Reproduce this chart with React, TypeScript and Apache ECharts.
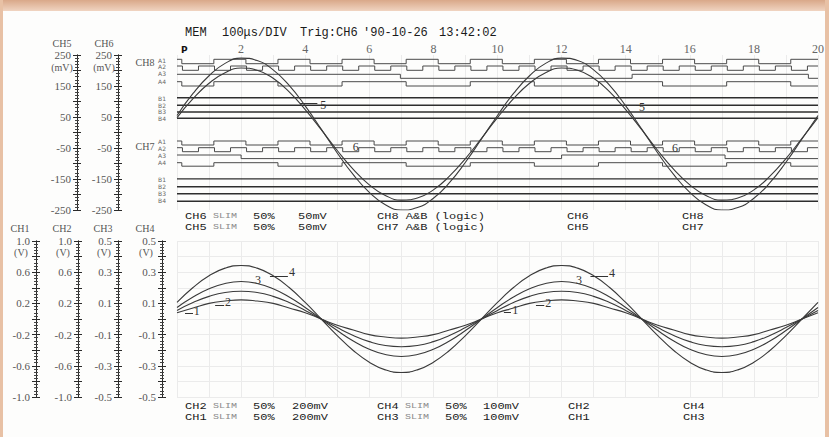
import React, { useEffect, useRef } from 'react';
import * as echarts from 'echarts';

// ---------- data ----------
const TIME_DIV = [0,0.5,1,1.5,2,2.5,3,3.5,4,4.5,5,5.5,6,6.5,7,7.5,8,8.5,9,9.5,10,10.5,11,11.5,12,12.5,13,13.5,14,14.5,15,15.5,16,16.5,17,17.5,18,18.5,19,19.5,20];
const TIME_TICKS = [2,4,6,8,10,12,14,16,18,20];

const CH5_MV = [55,126,183,223,240,232,202,152,86,11,-66,-136,-193,-233,-250,-242,-212,-162,-96,-21,55,126,183,223,240,232,202,152,86,11,-66,-136,-193,-233,-250,-242,-212,-162,-96,-21,55];
const CH6_MV = [48,109,159,193,208,201,175,131,74,9,-58,-119,-169,-203,-218,-211,-185,-141,-84,-19,48,109,159,193,208,201,175,131,74,9,-58,-119,-169,-203,-218,-211,-185,-141,-84,-19,48];

const CH1_V = [0.08,0.14,0.2,0.23,0.245,0.23,0.2,0.14,0.08,0,-0.08,-0.14,-0.2,-0.23,-0.245,-0.23,-0.2,-0.14,-0.08,0,0.08,0.14,0.2,0.23,0.245,0.23,0.2,0.14,0.08,0,-0.08,-0.14,-0.2,-0.23,-0.245,-0.23,-0.2,-0.14,-0.08,0,0.08];
const CH2_V = [0.11,0.21,0.29,0.34,0.355,0.34,0.29,0.21,0.11,0,-0.11,-0.21,-0.29,-0.34,-0.355,-0.34,-0.29,-0.21,-0.11,0,0.11,0.21,0.29,0.34,0.355,0.34,0.29,0.21,0.11,0,-0.11,-0.21,-0.29,-0.34,-0.355,-0.34,-0.29,-0.21,-0.11,0,0.11];
const CH3_V = [0.074,0.141,0.194,0.228,0.24,0.228,0.194,0.141,0.074,0,-0.074,-0.141,-0.194,-0.228,-0.24,-0.228,-0.194,-0.141,-0.074,0,0.074,0.141,0.194,0.228,0.24,0.228,0.194,0.141,0.074,0,-0.074,-0.141,-0.194,-0.228,-0.24,-0.228,-0.194,-0.141,-0.074,0,0.074];
const CH4_V = [0.106,0.202,0.277,0.326,0.343,0.326,0.277,0.202,0.106,0,-0.106,-0.202,-0.277,-0.326,-0.343,-0.326,-0.277,-0.202,-0.106,0,0.106,0.202,0.277,0.326,0.343,0.326,0.277,0.202,0.106,0,-0.106,-0.202,-0.277,-0.326,-0.343,-0.326,-0.277,-0.202,-0.106,0,0.106];

// logic channels: initial level and toggle times (divisions)
const CH8_A_INIT = [1, 1, 1, 1];
const CH8_A1_EDGES = [0.15,1.15,2.15,3.15,4.15,5.15,6.15,7.15,8.15,9.15,10.15,11.15,12.15,13.15,14.15,15.15,16.15,17.15,18.15,19.15];
const CH8_A2_EDGES = [0.17,0.67,1.17,1.67,2.17,2.67,3.17,3.67,4.17,4.67,5.17,5.67,6.17,6.67,7.17,7.67,8.17,8.67,9.17,9.67,10.17,10.67,11.17,11.67,12.17,12.67,13.17,13.67,14.17,14.67,15.17,15.67,16.17,16.67,17.17,17.67,18.17,18.67,19.17,19.67];
const CH8_A3_EDGES = [6.97, 14.2, 19.7];
const CH8_A4_EDGES = [0.15,1.15,3.15,5.15,7.15,9.15,11.15,13.15,15.15,17.15,19.15];
const CH7_A_INIT = [1, 1, 1, 1];
const CH7_A1_EDGES = [0.15,1.15,2.15,3.15,4.15,5.15,6.15,7.15,8.15,9.15,10.15,11.15,12.15,13.15,14.15,15.15,16.15,17.15,18.15,19.15];
const CH7_A2_EDGES = [0.17,0.67,1.17,1.67,2.17,2.67,3.17,3.67,4.17,4.67,5.17,5.67,6.17,6.67,7.17,7.67,8.17,8.67,9.17,9.67,10.17,10.67,11.17,11.67,12.17,12.67,13.17,13.67,14.17,14.67,15.17,15.67,16.17,16.67,17.17,17.67,18.17,18.67,19.17,19.67];
const CH7_A3_EDGES = [2.0, 12.0, 17.1];
const CH7_A4_EDGES = [0.15,1.15,3.15,5.15,7.15,9.15,11.15,13.15,15.15,17.15,19.15];

// trace tags [time, value]
const TAG5 = [[4.56, 89], [14.51, 82]];
const TAG6 = [[5.58, -47], [15.54, -50]];
const TAG1 = [[0.62, 0.1], [10.55, 0.115]];
const TAG2 = [[1.59, 0.218], [11.58, 0.205]];
const TAG3 = [[2.53, 0.25], [12.54, 0.25]];
const TAG4 = [[3.59, 0.3], [13.57, 0.295]];

// ---------- layout ----------
const MONO = '"Liberation Mono", "DejaVu Sans Mono", monospace';
const SERIF = '"Liberation Serif", "DejaVu Serif", serif';
const SANS = '"DejaVu Sans", sans-serif';
const INK = '#3a3a3a';
const GRIDC = '#ebebeb';
const TXT = '#1a1a1a';

// logic row layout on the hidden pixel-like axis (55..210)
const CH8_ROWS = [[59.3, 63.7], [66, 70.3], [74.3, 78.3], [81.7, 86]];
const CH8_BROWS = [97.7, 105.3, 112, 118.3];
const CH7_ROWS = [[141, 145], [147.7, 151.7], [155, 158.6], [162.7, 166.2]];
const CH7_BROWS = [178.9, 186.8, 193.8, 201.2];

function zip(xs: number[], ys: number[]) {
  return xs.map((x, i) => [x, ys[i]]);
}

function stepData(init: number, edges: number[], row: number[]) {
  const [hi, lo] = row;
  let level = init;
  const pts: number[][] = [[0, level ? hi : lo]];
  for (const t of edges) {
    pts.push([t, level ? hi : lo]);
    level = 1 - level;
    pts.push([t, level ? hi : lo]);
  }
  pts.push([20, level ? hi : lo]);
  return pts;
}

function txt(text: string, x: number, y: number, size: number, fill: string, family: string, align = 'left', weight = 'normal', scaleY = 1) {
  return {
    type: 'text', x, y, scaleY, silent: true, z: 10,
    style: { text, fill, font: `${weight} ${size}px ${family}`, align, verticalAlign: 'middle', textAlign: align, textVerticalAlign: 'middle' },
  };
}
const ftxt = (text: string, x: number, y: number) => txt(text, x, y, 12, TXT, MONO, 'left', 'normal', 0.74);
const slim = (x: number, y: number) => txt('SLIM', x, y, 10, '#8a8a8a', MONO, 'left', 'normal', 0.74);

function scaleAxes(gridIndex: number, offset: number, min: number, max: number, interval: number, fmt: (v: number) => string, split = false) {
  const base: any = {
    type: 'value', gridIndex, position: 'left', offset, min, max, interval,
    axisLine: { show: true, onZero: false, lineStyle: { color: '#2a2a2a', width: 1 } },
    axisTick: { show: true, inside: false, length: 4, lineStyle: { color: '#2a2a2a', width: 1 } },
    minorTick: { show: true, splitNumber: 5, length: 2, lineStyle: { color: '#444', width: 1 } },
    axisLabel: { show: true, margin: 6, formatter: fmt, color: '#555', fontSize: 11, fontFamily: SERIF },
    splitLine: { show: split, lineStyle: { color: GRIDC, width: 1 } },
  };
  const inner: any = {
    ...base,
    axisTick: { ...base.axisTick, inside: true },
    axisLabel: { show: false },
    splitLine: { show: false },
  };
  return [base, inner];
}

const fmtMv = (v: number) => (Math.round(v) % 100 !== 0 ? String(Math.round(v)) : '');
const fmtV1 = (v: number) => (Math.abs(Math.round(v * 5)) % 2 === 1 ? v.toFixed(1) : '');
const fmtV05 = (v: number) => (Math.abs(Math.round(v * 10)) % 2 === 1 ? v.toFixed(1) : '');

function tagPoints(label: string, coords: number[][]) {
  return {
    symbol: 'rect', symbolSize: [1, 1], silent: true,
    itemStyle: { color: 'rgba(0,0,0,0)' },
    label: { show: true, position: 'inside', formatter: label, color: '#333', fontSize: 12, fontFamily: SERIF },
    data: coords.map((c) => ({ coord: c })),
  };
}

function leader(segs: number[][]) {
  return {
    symbol: ['none', 'none'], silent: true, animation: false,
    lineStyle: { color: '#333', width: 1, type: 'solid' },
    label: { show: false },
    data: segs.map(([a, b, v]) => [{ coord: [a, v] }, { coord: [b, v] }]),
  };
}

export default function App() {
  const ref = useRef<HTMLDivElement>(null);
  useEffect(() => {
    document.body.style.margin = '0';
    const chart = echarts.init(ref.current!, undefined, { renderer: 'svg' });

    const yAxis: any[] = [
      ...scaleAxes(0, 100, -250, 250, 50, fmtMv), // 0,1 CH5
      ...scaleAxes(0, 59, -250, 250, 50, fmtMv), // 2,3 CH6
      { type: 'value', gridIndex: 0, min: 55, max: 210, inverse: true, show: false }, // 4 logic
      ...scaleAxes(1, 141, -1, 1, 0.2, fmtV1, true), // 5,6 CH1
      ...scaleAxes(1, 99, -1, 1, 0.2, fmtV1), // 7,8 CH2
      ...scaleAxes(1, 59, -0.5, 0.5, 0.1, fmtV05), // 9,10 CH3
      ...scaleAxes(1, 15, -0.5, 0.5, 0.1, fmtV05), // 11,12 CH4
    ];

    const xBase = (gridIndex: number, labels: boolean): any => ({
      type: 'value', gridIndex, min: 0, max: 20, interval: 2, position: 'top',
      axisLine: { show: false }, axisTick: { show: false },
      axisLabel: {
        show: labels, margin: 0, color: '#666', fontSize: 12, fontFamily: SERIF,
        formatter: (v: number) => (TIME_TICKS.includes(v) ? String(v) : ''),
      },
      splitLine: { show: true, lineStyle: { color: GRIDC, width: 1 } },
      minorTick: { show: false, splitNumber: 2 },
      minorSplitLine: { show: true, lineStyle: { color: GRIDC, width: 1 } },
    });

    const analog = (name: string, xi: number, yi: number, vals: number[], tag: any, lead?: any) => ({
      name, type: 'line', xAxisIndex: xi, yAxisIndex: yi, data: zip(TIME_DIV, vals),
      smooth: true, showSymbol: false, silent: true, z: 5,
      lineStyle: { color: INK, width: 1.1 },
      markPoint: tag, ...(lead ? { markLine: lead } : {}),
    });

    const logicSeries: any[] = [];
    const addLogic = (name: string, init: number, edges: number[], row: number[]) => {
      logicSeries.push({
        name, type: 'line', xAxisIndex: 0, yAxisIndex: 4, data: stepData(init, edges, row),
        showSymbol: false, silent: true, z: 3, lineStyle: { color: '#4a4a4a', width: 1 },
      });
    };
    addLogic('CH8 A1', CH8_A_INIT[0], CH8_A1_EDGES, CH8_ROWS[0]);
    addLogic('CH8 A2', CH8_A_INIT[1], CH8_A2_EDGES, CH8_ROWS[1]);
    addLogic('CH8 A3', CH8_A_INIT[2], CH8_A3_EDGES, CH8_ROWS[2]);
    addLogic('CH8 A4', CH8_A_INIT[3], CH8_A4_EDGES, CH8_ROWS[3]);
    addLogic('CH7 A1', CH7_A_INIT[0], CH7_A1_EDGES, CH7_ROWS[0]);
    addLogic('CH7 A2', CH7_A_INIT[1], CH7_A2_EDGES, CH7_ROWS[1]);
    addLogic('CH7 A3', CH7_A_INIT[2], CH7_A3_EDGES, CH7_ROWS[2]);
    addLogic('CH7 A4', CH7_A_INIT[3], CH7_A4_EDGES, CH7_ROWS[3]);
    [...CH8_BROWS, ...CH7_BROWS].forEach((y, i) => {
      logicSeries.push({
        name: (i < 4 ? 'CH8 B' : 'CH7 B') + ((i % 4) + 1), type: 'line', xAxisIndex: 0, yAxisIndex: 4,
        data: [[0, y], [20, y]], showSymbol: false, silent: true, z: 3,
        lineStyle: { color: '#2e2e2e', width: 1.4 },
      });
    });

    const graphics: any[] = [
      {
        type: 'rect', shape: { x: 0, y: 0, width: 829, height: 11 }, silent: true,
        style: { fill: new echarts.graphic.LinearGradient(0, 0, 0, 1, [{ offset: 0, color: '#d9a889' }, { offset: 1, color: '#f0d4c1' }]) },
      },
      { type: 'rect', shape: { x: 0, y: 0, width: 3, height: 437 }, silent: true, style: { fill: '#e8c1a5' } },
      { type: 'rect', shape: { x: 825, y: 0, width: 4, height: 437 }, silent: true, style: { fill: '#e8c1a5' } },
      // header
      txt('MEM', 185, 33, 12, TXT, MONO),
      txt('100μs/DIV', 222, 33, 12, TXT, MONO),
      txt('Trig:CH6', 300, 33, 12, TXT, MONO),
      txt("'90-10-26", 363, 33, 12, TXT, MONO),
      txt('13:42:02', 439, 33, 12, TXT, MONO),
      txt('P', 181, 50, 9, '#111', SANS, 'left', 'bold'),
      // scale titles
      txt('CH5', 62, 43, 10, '#555', SERIF, 'center'),
      txt('(mV)', 62, 67, 10, '#555', SERIF, 'center'),
      txt('CH6', 104, 43, 10, '#555', SERIF, 'center'),
      txt('(mV)', 104, 67, 10, '#555', SERIF, 'center'),
      txt('CH1', 20, 228, 10, '#555', SERIF, 'center'),
      txt('(V)', 21, 252, 10, '#555', SERIF, 'center'),
      txt('CH2', 62, 228, 10, '#555', SERIF, 'center'),
      txt('(V)', 63, 252, 10, '#555', SERIF, 'center'),
      txt('CH3', 103, 228, 10, '#555', SERIF, 'center'),
      txt('(V)', 104, 252, 10, '#555', SERIF, 'center'),
      txt('CH4', 145, 228, 10, '#555', SERIF, 'center'),
      txt('(V)', 146, 252, 10, '#555', SERIF, 'center'),
      // logic labels
      txt('CH8', 145, 62, 10, '#555', SERIF, 'center'),
      txt('CH7', 145, 146, 10, '#555', SERIF, 'center'),
    ];
    const aNames = ['A1', 'A2', 'A3', 'A4'];
    const bNames = ['B1', 'B2', 'B3', 'B4'];
    const ch8ay = [60, 66, 73.5, 81];
    const ch8by = [98.5, 105, 111.5, 118];
    const ch7ay = [141, 148, 155, 162.5];
    const ch7by = [179.5, 186.5, 193.5, 200.5];
    aNames.forEach((n, i) => { graphics.push(txt(n, 162, ch8ay[i], 6, '#666', SANS, 'center')); graphics.push(txt(n, 162, ch7ay[i], 6, '#666', SANS, 'center')); });
    bNames.forEach((n, i) => { graphics.push(txt(n, 162, ch8by[i], 6, '#666', SANS, 'center')); graphics.push(txt(n, 162, ch7by[i], 6, '#666', SANS, 'center')); });

    // footer of upper panel
    const U1 = 216.5, U2 = 227.5, L1 = 406.5, L2 = 417.5;
    graphics.push(ftxt('CH6', 185, U1), slim(213, U1), ftxt('50%', 253, U1), ftxt('50mV', 298, U1));
    graphics.push(ftxt('CH5', 185, U2), slim(213, U2), ftxt('50%', 253, U2), ftxt('50mV', 298, U2));
    graphics.push(ftxt('CH8 A&B (logic)', 377, U1), ftxt('CH7 A&B (logic)', 377, U2));
    graphics.push(ftxt('CH6', 567, U1), ftxt('CH5', 567, U2), ftxt('CH8', 682, U1), ftxt('CH7', 682, U2));
    // footer of lower panel
    graphics.push(ftxt('CH2', 185, L1), slim(213, L1), ftxt('50%', 253, L1), ftxt('200mV', 292, L1));
    graphics.push(ftxt('CH1', 185, L2), slim(213, L2), ftxt('50%', 253, L2), ftxt('200mV', 292, L2));
    graphics.push(ftxt('CH4', 377, L1), slim(405, L1), ftxt('50%', 445, L1), ftxt('100mV', 483, L1));
    graphics.push(ftxt('CH3', 377, L2), slim(405, L2), ftxt('50%', 445, L2), ftxt('100mV', 483, L2));
    graphics.push(ftxt('CH2', 568, L1), ftxt('CH1', 568, L2), ftxt('CH4', 683, L1), ftxt('CH3', 683, L2));

    chart.setOption({
      animation: false,
      backgroundColor: '#fdfdfc',
      grid: [
        { left: 177, top: 55, width: 641, height: 155, containLabel: false },
        { left: 177, top: 241, width: 641, height: 156, containLabel: false },
      ],
      xAxis: [xBase(0, true), xBase(1, false)],
      yAxis,
      graphic: graphics,
      series: [
        analog('CH5', 0, 0, CH5_MV, tagPoints('5', TAG5), leader([[3.84, 4.38, 95], [13.8, 14.33, 88]])),
        analog('CH6', 0, 2, CH6_MV, tagPoints('6', TAG6)),
        ...logicSeries,
        analog('CH1', 1, 5, CH1_V, tagPoints('1', TAG1), leader([[0.25, 0.5, 0.077], [10.2, 10.42, 0.09]])),
        analog('CH2', 1, 7, CH2_V, tagPoints('2', TAG2), leader([[1.19, 1.47, 0.18], [11.2, 11.46, 0.17]])),
        analog('CH3', 1, 9, CH3_V, tagPoints('3', TAG3)),
        analog('CH4', 1, 11, CH4_V, tagPoints('4', TAG4), leader([[2.9, 3.46, 0.276], [12.9, 13.45, 0.272]])),
      ],
    });
    return () => chart.dispose();
  }, []);
  return <div ref={ref} style={{ position: 'fixed', left: 0, top: 0, width: 829, height: 437 }} />;
}
